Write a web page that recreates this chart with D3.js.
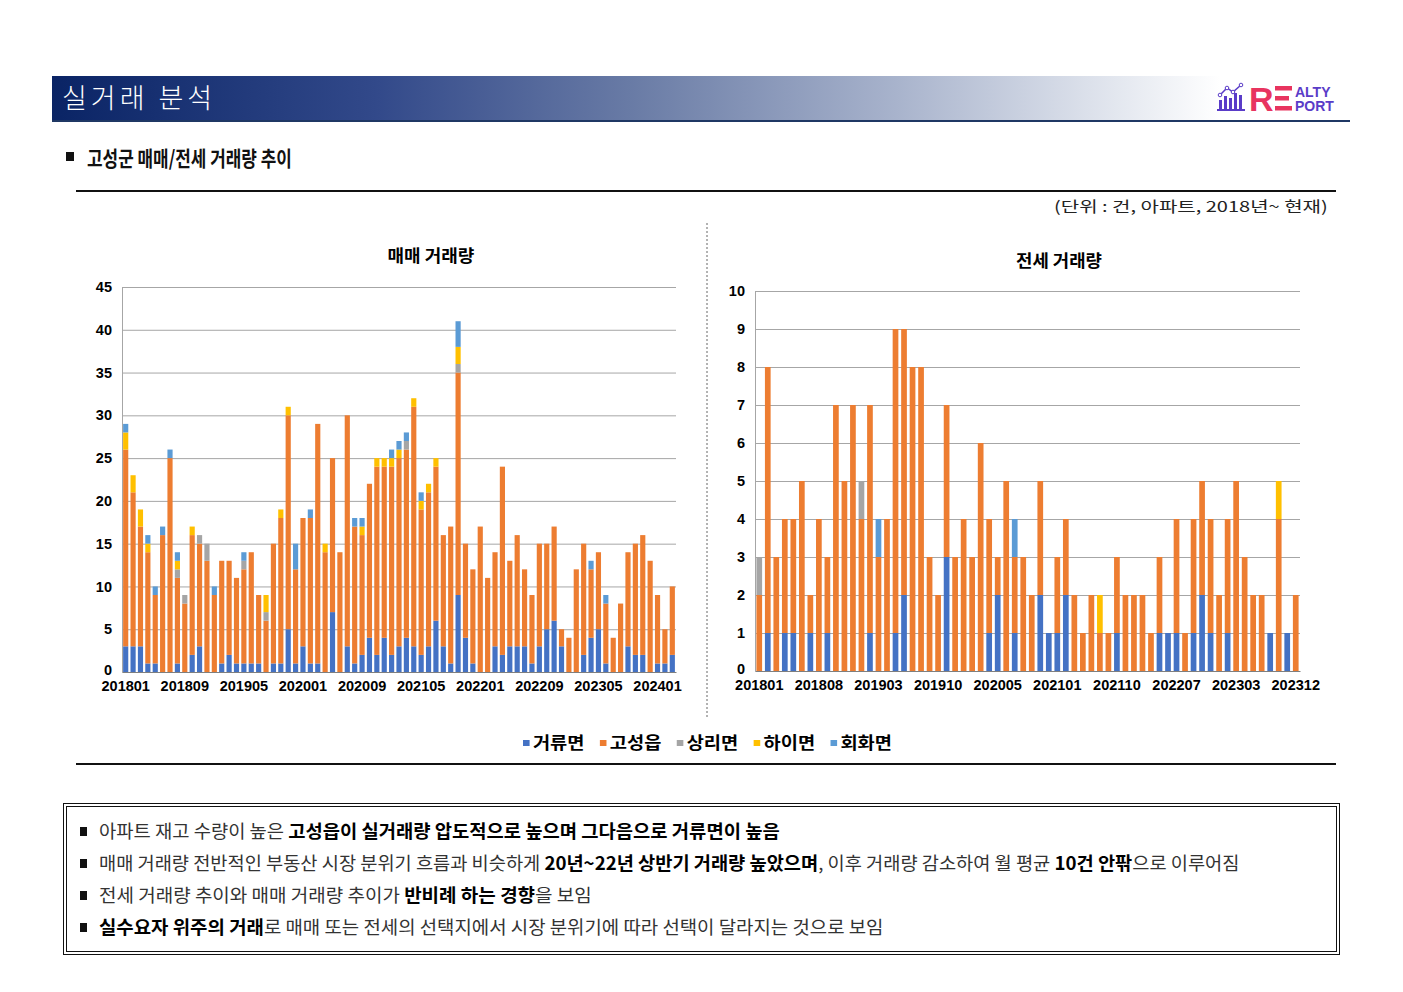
<!DOCTYPE html>
<html><head><meta charset="utf-8">
<script src="https://cdn.jsdelivr.net/npm/d3@7"></script>
<style>
html,body{margin:0;padding:0;background:#fff;}
svg{display:block;}
</style></head>
<body>
<svg id="c" width="1403" height="992"></svg>
<script>
// ---------------- DATA ----------------
const seriesNames = ["거류면","고성읍","상리면","하이면","회화면"];
const seriesColors = ["#4472C4","#ED7D31","#A5A5A5","#FFC000","#5B9BD5"];

const saleMonths = ["201801","201802","201803","201804","201805","201806","201807","201808","201809","201810","201811","201812",
"201901","201902","201903","201904","201905","201906","201907","201908","201909","201910","201911","201912",
"202001","202002","202003","202004","202005","202006","202007","202008","202009","202010","202011","202012",
"202101","202102","202103","202104","202105","202106","202107","202108","202109","202110","202111","202112",
"202201","202202","202203","202204","202205","202206","202207","202208","202209","202210","202211","202212",
"202301","202302","202303","202304","202305","202306","202307","202308","202309","202310","202311","202312",
"202401","202402","202403"];
const saleGeoryu  = [3,3,3,1,1,0,0,1,0,2,3,0, 0,1,2,1,1,1,1,0,1,1,5,1, 3,1,1,0,7,0,3,1,2,4,2,4, 2,3,4,3,2,3,6,3,1,9,4,1, 0,0,3,2,3,3,3,1,3,5,6,3, 0,0,2,4,5,1,0,0,3,2,2,0, 1,1,2];
const saleGoseong = [23,18,14,13,8,16,25,10,8,14,12,13, 9,12,11,10,11,13,8,6,14,17,25,11, 15,17,28,14,18,14,27,16,14,18,22,20, 22,22,22,28,17,18,18,13,16,26,11,11, 17,11,11,22,10,13,9,8,12,10,11,2, 4,12,13,8,9,7,4,8,11,13,14,13, 8,4,8];
const saleSangri  = [0,0,0,0,0,0,0,1,1,0,1,2, 0,0,0,0,1,0,0,1,0,0,0,0, 0,0,0,0,0,0,0,0,0,0,0,0, 0,0,1,0,0,0,0,0,0,1,0,0, 0,0,0,0,0,0,0,0,0,0,0,0, 0,0,0,0,0,0,0,0,0,0,0,0, 0,0,0];
const saleHai     = [2,2,2,1,0,0,0,1,0,1,0,0, 0,0,0,0,0,0,0,2,0,1,1,0, 0,0,0,1,0,0,0,0,1,0,1,1, 1,1,0,1,1,1,1,0,0,2,0,0, 0,0,0,0,0,0,0,0,0,0,0,0, 0,0,0,0,0,0,0,0,0,0,0,0, 0,0,0];
const saleHoehwa  = [1,0,0,1,1,1,1,1,0,0,0,0, 1,0,0,0,1,0,0,0,0,0,0,3, 0,1,0,0,0,0,0,1,1,0,0,0, 1,1,1,0,1,0,0,0,0,3,0,0, 0,0,0,0,0,0,0,0,0,0,0,0, 0,0,0,1,0,1,0,0,0,0,0,0, 0,0,0];
const saleTicks = ["201801","201809","201905","202001","202009","202105","202201","202209","202305","202401"];
const saleYTicks = [0,5,10,15,20,25,30,35,40,45];

const rentMonths = ["201801","201802","201803","201804","201805","201806","201807","201808","201809","201810","201811","201812",
"201901","201902","201903","201904","201905","201906","201907","201908","201909","201910","201911","201912",
"202001","202002","202003","202004","202005","202006","202007","202009","202010","202011","202012",
"202101","202102","202103","202105","202106","202107","202109","202110","202111","202112",
"202202","202203","202204","202206","202207","202208","202209","202210","202212",
"202301","202302","202303","202304","202305","202307","202308","202309","202311","202312"];
const rentGeoryu  = [0,1,0,1,1,0,1,0,1,0,0,0,0,1,0,0,1,2,0,0,0,0,3,0,0,0,0,1,2,0,1,0,0,2,1,1,2,0,0,0,0,0,1,0,0,0,0,1,1,1,0,1,2,1,0,1,0,0,0,0,1,0,1,0];
const rentGoseong = [2,7,3,3,3,5,1,4,2,7,5,7,4,6,3,4,8,7,8,8,3,2,4,3,4,3,6,3,1,5,2,3,2,3,0,2,2,2,1,2,1,1,2,2,2,2,1,2,0,3,1,3,3,3,2,3,5,3,2,2,0,4,0,2];
const rentSangri  = [1,0,0,0,0,0,0,0,0,0,0,0,1,0,0,0,0,0,0,0,0,0,0,0,0,0,0,0,0,0,0,0,0,0,0,0,0,0,0,0,0,0,0,0,0,0,0,0,0,0,0,0,0,0,0,0,0,0,0,0,0,0,0,0];
const rentHai     = [0,0,0,0,0,0,0,0,0,0,0,0,0,0,0,0,0,0,0,0,0,0,0,0,0,0,0,0,0,0,0,0,0,0,0,0,0,0,0,0,1,0,0,0,0,0,0,0,0,0,0,0,0,0,0,0,0,0,0,0,0,1,0,0];
const rentHoehwa  = [0,0,0,0,0,0,0,0,0,0,0,0,0,0,1,0,0,0,0,0,0,0,0,0,0,0,0,0,0,0,1,0,0,0,0,0,0,0,0,0,0,0,0,0,0,0,0,0,0,0,0,0,0,0,0,0,0,0,0,0,0,0,0,0];
const rentTicks = ["201801","201808","201903","201910","202005","202101","202110","202207","202303","202312"];
const rentYTicks = [0,1,2,3,4,5,6,7,8,9,10];

// ---------------- DRAW ----------------
const svg = d3.select("#c");
const KR = "'Noto Sans CJK KR','Noto Sans',sans-serif";
const AR = "'Liberation Sans','Noto Sans CJK KR',Arial,sans-serif";

// header gradient
const defs = svg.append("defs");
const g1 = defs.append("linearGradient").attr("id","hdr").attr("x1","0").attr("x2","1").attr("y1","0").attr("y2","0");
[[0,"#0a2465"],[0.25,"#32498a"],[0.45,"#6a7ca6"],[0.65,"#a8b3cc"],[0.82,"#e3e7ef"],[0.9,"#ffffff"],[1,"#ffffff"]]
  .forEach(([o,c])=>g1.append("stop").attr("offset",o).attr("stop-color",c));
svg.append("rect").attr("x",52).attr("y",76).attr("width",1298).attr("height",45).attr("fill","url(#hdr)");
svg.append("rect").attr("x",52).attr("y",120).attr("width",1298).attr("height",2).attr("fill","#1f3864");
svg.append("text").attr("x",62).attr("y",108).attr("fill","#fff").attr("font-family",KR)
  .attr("font-size",27).attr("font-weight",300).attr("letter-spacing",4).text("실거래 분석");

// logo
const lg = svg.append("g");
const purple = "#5a3cc8", pink = "#e8345f";
[[1219,100,3,10],[1224,96,3,14],[1229,98,3,12],[1234,93,3,17],[1239,95,3,15]].forEach(r=>
  lg.append("rect").attr("x",r[0]).attr("y",r[1]).attr("width",r[2]).attr("height",r[3]).attr("fill",purple));
lg.append("rect").attr("x",1217).attr("y",109).attr("width",28).attr("height",2).attr("fill",purple);
lg.append("polyline").attr("points","1220,95 1227,88 1233,92 1241,85").attr("fill","none").attr("stroke",purple).attr("stroke-width",1.5);
[[1220,95],[1227,88],[1233,92],[1241,85]].forEach(p=>lg.append("circle").attr("cx",p[0]).attr("cy",p[1]).attr("r",1.8).attr("fill","#fff").attr("stroke",purple).attr("stroke-width",1));
lg.append("text").attr("x",1249).attr("y",111).attr("font-family",AR).attr("font-weight",700).attr("font-size",34).attr("fill",pink).text("R");
[86,96,106].forEach((yy,i)=>lg.append("rect").attr("x",1275).attr("y",yy).attr("width",i==1?14:17).attr("height",4.5).attr("fill",pink));
const logoTxt = lg.append("text").attr("font-family",AR).attr("font-weight",700).attr("font-size",14).attr("fill",purple);
logoTxt.append("tspan").attr("x",1295).attr("y",97).text("ALTY");
logoTxt.append("tspan").attr("x",1295).attr("y",111).text("PORT");

// helper: scale text horizontally to fit a target width
function fit(textSel, x, y, w){
  const n = textSel.node();
  const len = n.getComputedTextLength();
  const k = w/len;
  textSel.attr("x",0).attr("y",0).attr("transform",`translate(${x},${y}) scale(${k},1)`);
}

// subtitle
svg.append("rect").attr("x",66).attr("y",152).attr("width",8).attr("height",9).attr("fill","#111");
const st = svg.append("text").attr("font-family",KR).attr("font-weight",700).attr("font-size",21).attr("fill","#111").text("고성군 매매/전세 거래량 추이");
fit(st, 87, 166, 205);

// top / bottom rules
svg.append("rect").attr("x",76).attr("y",190).attr("width",1260).attr("height",2).attr("fill","#111");
svg.append("rect").attr("x",76).attr("y",763).attr("width",1260).attr("height",2).attr("fill","#111");

// unit text
const ut = svg.append("text").attr("font-family",KR).attr("font-size",15).attr("fill","#222").text("(단위 : 건, 아파트, 2018년~ 현재)");
fit(ut, 1054, 212, 274);

// divider
svg.append("line").attr("x1",707).attr("x2",707).attr("y1",223).attr("y2",718).attr("stroke","#666").attr("stroke-width",1).attr("stroke-dasharray","2,2");

function drawChart(cfg){
  const {months, cols, ticks, yTicks, yMax, x0, x1, yTop, yBot, pad, title, titleX, titleY, titleW} = cfg;
  const rows = months.map((m,i)=>{ const r={month:m}; seriesNames.forEach((s,j)=>r[s]=cols[j][i]); return r;});
  const stack = d3.stack().keys(seriesNames)(rows);
  const x = d3.scaleBand().domain(months).range([x0,x1]).paddingInner(pad).paddingOuter(pad/2);
  const y = d3.scaleLinear().domain([0,yMax]).range([yBot,yTop]);
  const g = svg.append("g");
  // gridlines
  g.append("g").selectAll("line").data(yTicks.filter(t=>t>0)).join("line")
    .attr("x1",x0).attr("x2",x1).attr("y1",d=>y(d)+0.5).attr("y2",d=>y(d)+0.5)
    .attr("stroke","#a6a6a6").attr("stroke-width",1);
  // y axis
  const ya = g.append("g").attr("transform",`translate(${x0},0)`)
    .call(d3.axisLeft(y).tickValues(yTicks).tickSize(0).tickPadding(10));
  ya.select(".domain").attr("stroke","#a6a6a6");
  ya.selectAll("text").attr("font-family",AR).attr("font-weight",700).attr("font-size",14.5).attr("fill","#000");
  ya.selectAll(".tick").filter(d=>d===0).select("text").attr("dy","0.2em");
  // bars
  g.append("g").selectAll("g").data(stack).join("g").attr("fill",(d,i)=>seriesColors[i])
    .selectAll("rect").data(d=>d).join("rect")
    .attr("x",d=>x(d.data.month)).attr("width",x.bandwidth())
    .attr("y",d=>y(d[1])).attr("height",d=>Math.max(0,y(d[0])-y(d[1])));
  // x axis
  const xa = g.append("g").attr("transform",`translate(0,${yBot})`)
    .call(d3.axisBottom(x).tickValues(ticks).tickSize(0).tickPadding(9));
  xa.select(".domain").attr("stroke","#7f7f7f");
  xa.selectAll("text").attr("font-family",AR).attr("font-weight",700).attr("font-size",14.5).attr("fill","#000");
  // title
  const tt = svg.append("text").attr("font-family",KR)
    .attr("font-weight",700).attr("font-size",17).attr("fill","#000").text(title);
  fit(tt, titleX - titleW/2, titleY, titleW);
}

drawChart({months:saleMonths, cols:[saleGeoryu,saleGoseong,saleSangri,saleHai,saleHoehwa], ticks:saleTicks, yTicks:saleYTicks,
  yMax:45, x0:122, x1:676, yTop:287, yBot:672, pad:0.3, title:"매매 거래량", titleX:431, titleY:262, titleW:87});
drawChart({months:rentMonths, cols:[rentGeoryu,rentGoseong,rentSangri,rentHai,rentHoehwa], ticks:rentTicks, yTicks:rentYTicks,
  yMax:10, x0:755, x1:1300, yTop:291, yBot:671, pad:0.33, title:"전세 거래량", titleX:1059, titleY:267, titleW:86});

// legend
const leg = svg.append("g");
let lx = 0;
seriesNames.forEach((s,i)=>{
  leg.append("rect").attr("x",lx).attr("y",-4).attr("width",6).attr("height",6).attr("fill",seriesColors[i]);
  const t = leg.append("text").attr("x",lx+9).attr("y",5).attr("font-family",KR).attr("font-weight",700).attr("font-size",17).attr("fill","#000").text(s);
  lx += 9 + t.node().getComputedTextLength() + 14;
});
lx -= 14;
leg.attr("transform",`translate(${523},${744}) scale(${(892-523)/lx},1)`);

// text box
svg.append("rect").attr("x",63.5).attr("y",803.5).attr("width",1276).attr("height",151).attr("fill","none").attr("stroke","#111").attr("stroke-width",1);
svg.append("rect").attr("x",66.5).attr("y",806.5).attr("width",1270).attr("height",145).attr("fill","none").attr("stroke","#111").attr("stroke-width",1);

const lines = [
  {y:838, end:780, parts:[["아파트 재고 수량이 높은 ",0],["고성읍이 실거래량 압도적으로 높으며 그다음으로 거류면이 높음",1]]},
  {y:870, end:1240, parts:[["매매 거래량 전반적인 부동산 시장 분위기 흐름과 비슷하게 ",0],["20년~22년 상반기 거래량 높았으며",1],[", 이후 거래량 감소하여 월 평균 ",0],["10건 안팎",1],["으로 이루어짐",0]]},
  {y:902, end:592, parts:[["전세 거래량 추이와 매매 거래량 추이가 ",0],["반비례 하는 경향",1],["을 보임",0]]},
  {y:934, end:884, parts:[["실수요자 위주의 거래",1],["로 매매 또는 전세의 선택지에서 시장 분위기에 따라 선택이 달라지는 것으로 보임",0]]}
];
lines.forEach(L=>{
  svg.append("rect").attr("x",80).attr("y",L.y-11).attr("width",7).attr("height",9).attr("fill","#111");
  const t = svg.append("text").attr("font-family",KR).attr("font-size",18).attr("fill","#222");
  L.parts.forEach(p=>t.append("tspan").attr("font-weight",p[1]?700:400).attr("fill",p[1]?"#000":"#333").text(p[0]));
  fit(t, 99, L.y, L.end-99);
});
</script>
</body></html>
